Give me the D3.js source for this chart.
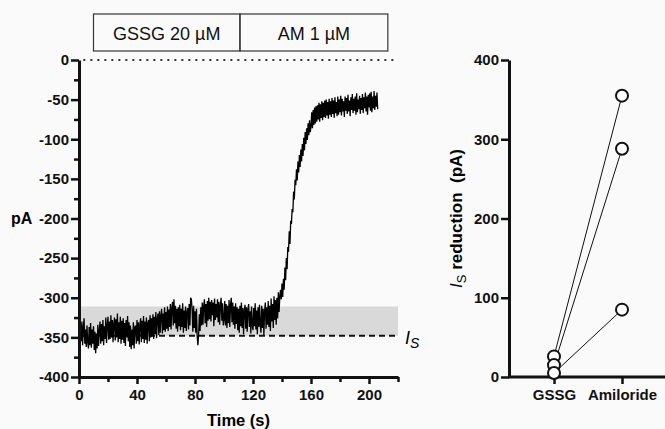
<!DOCTYPE html>
<html>
<head>
<meta charset="utf-8">
<script src="https://cdn.jsdelivr.net/npm/d3@7"></script>
<style>
  body { margin: 0; background: #fafafa; }
  svg { display: block; font-family: "Liberation Sans", Arial, sans-serif; }
  .axis text { font-size: 15px; font-weight: bold; fill: #111; }
  .axis .domain { stroke: #111; stroke-width: 3; }
  .axis .tick line { stroke: #111; stroke-width: 2.5; }
</style>
</head>
<body>
<div class="canvas"></div>
<script>
// whole-cell current trace, pA, sampled every 0.5 s from t = 0
const traceStep = 0.5;
const trace = [
  -328,-357,-333,-355,-330,-360,-338,-326,-358,-340,
  -362,-335,-356,-364,-337,-360,-332,-363,-340,-358,
  -336,-366,-343,-370,-345,-364,-334,-361,-342,-330,
  -358,-333,-355,-328,-360,-336,-352,-325,-357,-334,
  -324,-353,-330,-352,-322,-350,-328,-356,-333,-325,
  -354,-327,-350,-320,-356,-331,-352,-324,-358,-329,
  -353,-326,-357,-332,-361,-328,-350,-323,-355,-331,
  -362,-335,-365,-340,-360,-331,-364,-337,-335,-358,
  -328,-355,-331,-359,-334,-326,-356,-329,-352,-323,
  -357,-330,-353,-325,-358,-332,-328,-355,-322,-350,
  -326,-349,-321,-352,-324,-346,-318,-351,-326,-320,
  -347,-317,-344,-322,-314,-345,-320,-341,-312,-343,
  -318,-339,-311,-342,-315,-337,-308,-340,-313,-305,
  -335,-302,-332,-310,-339,-314,-343,-312,-336,-309,
  -341,-314,-337,-307,-344,-316,-338,-311,-342,-318,
  -313,-340,-308,-335,-300,-302,-315,-343,-310,-338,
  -317,-344,-314,-349,-360,-346,-321,-342,-312,-335,
  -306,-334,-310,-302,-332,-308,-337,-304,-329,-300,
  -327,-305,-330,-303,-322,-306,-336,-301,-328,-308,
  -325,-302,-331,-305,-334,-310,-300,-329,-307,-335,
  -328,-304,-335,-308,-338,-310,-332,-303,-337,-309,
  -300,-331,-306,-334,-311,-339,-307,-333,-312,-341,
  -314,-344,-310,-336,-306,-338,-313,-346,-316,-309,
  -339,-312,-343,-315,-308,-337,-317,-345,-311,-335,
  -341,-313,-336,-307,-340,-316,-346,-312,-337,-309,
  -335,-344,-310,-338,-314,-347,-317,-306,-339,-312,
  -334,-304,-337,-310,-342,-301,-330,-308,-338,-298,
  -328,-303,-334,-300,-326,-293,-318,-298,-290,-302,
  -282,-299,-276,-290,-262,-278,-250,-264,-236,-242,
  -216,-232,-203,-207,-188,-192,-166,-176,-151,-158,
  -138,-152,-128,-142,-120,-135,-113,-128,-106,-121,
  -98,-114,-91,-106,-86,-101,-80,-95,-76,-91,
  -84,-66,-86,-63,-82,-60,-80,-58,-78,-57,
  -75,-54,-78,-56,-73,-52,-76,-54,-72,-51,
  -73,-50,-70,-53,-74,-49,-69,-52,-72,-48,
  -68,-51,-73,-47,-67,-53,-71,-46,-69,-50,
  -66,-45,-70,-49,-65,-52,-72,-46,-64,-48,
  -68,-44,-65,-51,-71,-47,-63,-43,-67,-49,
  -64,-46,-69,-42,-66,-50,-62,-45,-68,-48,
  -63,-43,-67,-47,-61,-41,-65,-46,-69,-44,
  -60,-42,-64,-40,-66,-46,-61,-39,-63,-45,
  -59,-41,-62
];

// drug application bar (s)
const drugs = ['GSSG 20 µM', 'AM 1 µM'];
const drugStart = [10, 111];
const drugEnd = [111, 213];

// shaded region and I_S level (pA)
const bandTop = -311;
const isLevel = -348;

const timeTicks = [0, 40, 80, 120, 160, 200];
const timeMinor = [20, 60, 100, 140, 180, 220];
const paTicks = [0, -50, -100, -150, -200, -250, -300, -350, -400];
const paMinor = [-25, -75, -125, -175, -225, -275, -325, -375];

// right panel: I_S reduction (pA), paired per cell
const groups = ['GSSG', 'Amiloride'];
const gssgVals = [26, 15, 5];
const amilorideVals = [355, 288, 85];
const reductionTicks = [0, 100, 200, 300, 400];

const width = 665, height = 429;

const svg = d3.select('.canvas')
    .append('svg')
    .attr('width', width)
    .attr('height', height);

svg.append('rect')
    .attr('width', width).attr('height', height)
    .attr('fill', '#fafafa');

// plain hyphen minus, like the original
const fmt = d => String(d);

// ---------- left panel ----------
const x = d3.scaleLinear().domain([0, 220]).range([79, 398]);
const y = d3.scaleLinear().domain([-400, 0]).range([377, 60]);

// shaded band
svg.append('rect')
    .attr('x', x(0))
    .attr('y', y(bandTop))
    .attr('width', x(220) - x(0))
    .attr('height', y(isLevel) - y(bandTop))
    .attr('fill', '#d9d9d9');

// dashed I_S line
svg.append('line')
    .attr('x1', x(0)).attr('x2', x(220))
    .attr('y1', y(isLevel)).attr('y2', y(isLevel))
    .attr('stroke', '#111')
    .attr('stroke-width', 2)
    .attr('stroke-dasharray', '6,4');

// dotted zero line
svg.append('line')
    .attr('x1', x(3)).attr('x2', x(219))
    .attr('y1', y(0)).attr('y2', y(0))
    .attr('stroke', '#333')
    .attr('stroke-width', 2)
    .attr('stroke-dasharray', '2,5');

// trace
const line = d3.line()
    .x((d, i) => x(i * traceStep))
    .y(d => y(d));

svg.append('path')
    .datum(trace)
    .attr('fill', 'none')
    .attr('stroke', '#000')
    .attr('stroke-width', 1.3)
    .attr('d', line);

// axes
svg.append('g')
    .attr('class', 'axis')
    .attr('transform', `translate(${x(0)},0)`)
    .call(d3.axisLeft(y).tickValues(paTicks).tickFormat(fmt).tickSize(8).tickPadding(2).tickSizeOuter(0));

svg.append('g')
    .attr('class', 'axis')
    .attr('transform', `translate(${x(0)},0)`)
    .call(d3.axisLeft(y).tickValues(paMinor).tickSize(5).tickFormat('').tickSizeOuter(0))
    .select('.domain').remove();

svg.append('g')
    .attr('class', 'axis')
    .attr('transform', `translate(0,${y(-400)})`)
    .call(d3.axisBottom(x).tickValues(timeTicks).tickFormat(fmt).tickSize(7).tickPadding(5).tickSizeOuter(0));

svg.append('g')
    .attr('class', 'axis')
    .attr('transform', `translate(0,${y(-400)})`)
    .call(d3.axisBottom(x).tickValues(timeMinor).tickSize(5).tickFormat('').tickSizeOuter(0))
    .select('.domain').remove();

svg.append('text')
    .attr('x', (x(0) + x(220)) / 2)
    .attr('y', 426)
    .attr('text-anchor', 'middle')
    .attr('font-size', 16.5)
    .attr('font-weight', 'bold')
    .text('Time (s)');

svg.append('text')
    .attr('x', 11)
    .attr('y', y(-200) + 5)
    .attr('font-size', 16)
    .attr('font-weight', 'bold')
    .text('pA');

// I_S label
const isLabel = svg.append('text')
    .attr('x', 405)
    .attr('y', y(isLevel) + 8)
    .attr('font-size', 18)
    .attr('font-style', 'italic');
isLabel.append('tspan').text('I');
isLabel.append('tspan').attr('dy', 4).attr('font-size', 14).text('S');

// drug bar
const bar = svg.append('g');
drugs.forEach((name, i) => {
    bar.append('rect')
        .attr('x', x(drugStart[i]))
        .attr('y', 14)
        .attr('width', x(drugEnd[i]) - x(drugStart[i]))
        .attr('height', 37)
        .attr('fill', 'none')
        .attr('stroke', '#333')
        .attr('stroke-width', 1.2);
    bar.append('text')
        .attr('x', (x(drugStart[i]) + x(drugEnd[i])) / 2)
        .attr('y', 40)
        .attr('text-anchor', 'middle')
        .attr('font-size', 18)
        .attr('fill', '#111')
        .text(name);
});

// ---------- right panel ----------
const xr = d3.scalePoint().domain(groups).range([554, 622]);
const yr = d3.scaleLinear().domain([0, 400]).range([377, 60]);

svg.append('g')
    .attr('class', 'axis')
    .attr('transform', 'translate(509,0)')
    .call(d3.axisLeft(yr).tickValues(reductionTicks).tickFormat(fmt).tickSize(8).tickPadding(2).tickSizeOuter(0));

const xrAxis = svg.append('g')
    .attr('class', 'axis')
    .attr('transform', `translate(0,${yr(0)})`)
    .call(d3.axisBottom(xr).tickSize(7).tickPadding(5).tickSizeOuter(0));
xrAxis.select('.domain').attr('d', `M508,0H665`);

const ytitle = svg.append('text')
    .attr('transform', `translate(462,${(yr(0) + yr(400)) / 2}) rotate(-90)`)
    .attr('text-anchor', 'middle')
    .attr('font-size', 17)
    .attr('font-weight', 'bold')
    .style('white-space', 'pre');
ytitle.append('tspan').attr('font-style', 'italic').attr('font-weight', 'normal').text('I');
ytitle.append('tspan').attr('dy', 4).attr('font-size', 13).attr('font-weight', 'normal').text('S');
ytitle.append('tspan').attr('dy', -4).text(' reduction  (pA)');

const pairs = gssgVals.map((g, i) => [g, amilorideVals[i]]);

svg.append('g')
    .selectAll('line')
    .data(pairs)
    .join('line')
    .attr('x1', xr('GSSG')).attr('y1', d => yr(d[0]))
    .attr('x2', xr('Amiloride')).attr('y2', d => yr(d[1]))
    .attr('stroke', '#111')
    .attr('stroke-width', 1);

const points = pairs.flatMap(d => [
    { group: 'GSSG', value: d[0] },
    { group: 'Amiloride', value: d[1] }
]);

svg.append('g')
    .selectAll('circle')
    .data(points)
    .join('circle')
    .attr('cx', d => xr(d.group))
    .attr('cy', d => yr(d.value))
    .attr('r', 6)
    .attr('fill', '#fff')
    .attr('stroke', '#111')
    .attr('stroke-width', 2);
</script>
</body>
</html>
